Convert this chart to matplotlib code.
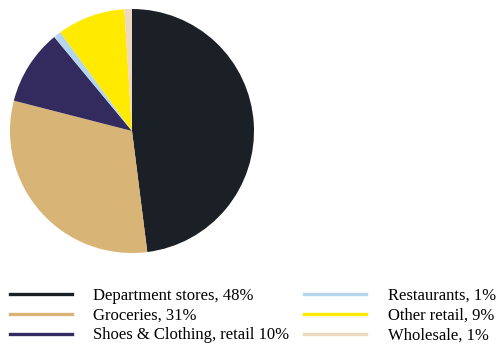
import matplotlib.pyplot as plt
from matplotlib.lines import Line2D

labels = ["Department stores, 48%", "Groceries, 31%", "Shoes & Clothing, retail 10%",
          "Restaurants, 1%", "Other retail, 9%", "Wholesale, 1%"]
shares = [48, 31, 10, 1, 9, 1]
colors = ["#1b2026", "#d8b577", "#332a5e", "#b3d5ee", "#ffea00", "#ecd9bf"]

W, H = 498, 345
fig = plt.figure(figsize=(W / 100, H / 100), dpi=100)

# pie area in pixels: left 10, top 9, size 244
ax = fig.add_axes([10 / W, (H - 9 - 244) / H, 244 / W, 244 / H])
ax.pie(shares, colors=colors, startangle=90, counterclock=False,
       wedgeprops=dict(linewidth=0))
ax.set_xlim(-1, 1)
ax.set_ylim(-1, 1)
ax.set_aspect("equal")
ax.axis("off")

handles = [Line2D([0], [0], color=c, lw=2.4) for c in colors]
fig.legend(handles, labels, ncol=2, frameon=False,
           loc="upper left", bbox_to_anchor=(10 / W, 1 - 288 / H),
           prop=dict(family="Liberation Serif", size=12),
           handlelength=3.7, handletextpad=1.3, columnspacing=0.9,
           labelspacing=0.22, borderaxespad=0, borderpad=0)

fig.savefig("out.png", dpi=100)
